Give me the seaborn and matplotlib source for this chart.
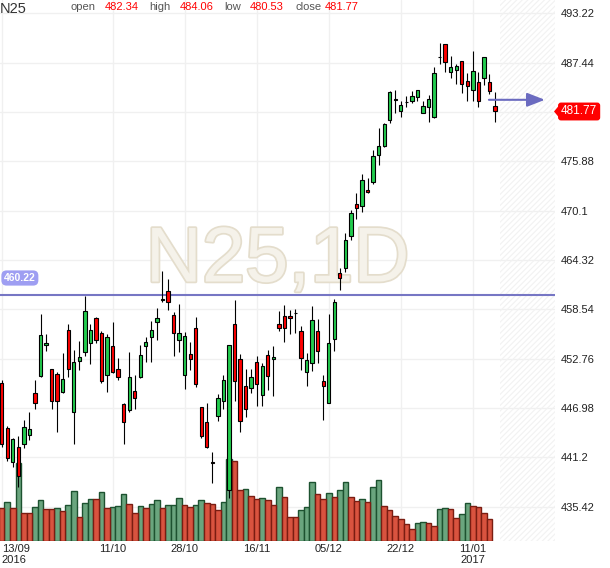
import numpy as np
import pandas as pd
import seaborn as sns
import matplotlib
matplotlib.use('Agg')
import matplotlib.pyplot as plt
import matplotlib.patheffects as pe
from matplotlib.patches import Polygon

# daily candles, N25, 13/09/2016 .. 17/01/2017
opens = [449.9, 444.6, 440.6, 442.4, 442.7, 443.8, 448.7, 450.7, 454.3, 451.5,
         451.0, 448.8, 456.1, 446.5, 452.5, 453.5, 454.6, 457.5, 455.8, 450.8,
         454.2, 451.6, 447.4, 446.7, 449.0, 450.6, 454.2, 455.3, 457.1, 459.6,
         460.7, 457.9, 454.9, 450.8, 453.3, 456.3, 447.1, 445.3, 440.6, 446.0,
         447.8, 437.3, 456.8, 452.7, 449.6, 449.3, 452.4, 448.5, 453.2, 452.7,
         456.8, 457.8, 457.8, 458.1, 456.0, 451.2, 452.3, 456.0, 450.1, 447.6,
         455.1, 462.8, 463.4, 467.1, 470.9, 470.7, 472.5, 473.5, 476.6, 477.7,
         480.7, 483.2, 481.8, 482.9, 483.0, 483.4, 481.6, 482.2, 481.1, 488.1,
         489.6, 486.4, 486.6, 487.7, 485.3, 484.3, 485.2, 485.7, 485.2, 482.34]
highs = [450.3, 444.9, 443.4, 443.7, 445.6, 446.5, 450.3, 458.0, 455.7, 451.6,
         451.2, 453.4, 456.8, 453.8, 454.8, 460.1, 456.8, 457.6, 456.0, 455.6,
         457.0, 452.8, 447.5, 453.5, 450.8, 454.4, 455.3, 457.2, 458.7, 463.0,
         462.1, 458.2, 459.2, 455.9, 454.7, 457.6, 447.1, 447.5, 441.8, 448.6,
         450.8, 454.4, 459.6, 453.3, 451.6, 451.5, 453.1, 452.3, 453.8, 454.2,
         458.4, 459.1, 458.5, 458.6, 456.6, 453.4, 458.9, 457.4, 450.8, 458.0,
         459.8, 463.4, 467.5, 470.2, 472.2, 474.4, 473.9, 477.2, 479.8, 480.4,
         484.1, 484.3, 483.0, 483.6, 484.1, 484.2, 483.0, 483.7, 487.0, 489.8,
         489.7, 488.2, 487.3, 487.7, 486.2, 488.8, 486.4, 488.1, 486.1, 484.06]
lows = [442.4, 440.7, 440.0, 437.7, 442.3, 443.2, 446.9, 450.6, 453.6, 446.9,
        444.2, 448.7, 450.6, 442.7, 451.4, 453.1, 452.1, 454.6, 449.9, 448.9,
        451.1, 450.2, 442.8, 446.5, 446.9, 450.5, 452.4, 452.4, 454.9, 459.4,
        458.5, 453.1, 453.5, 449.2, 451.4, 449.4, 443.5, 442.3, 438.2, 445.4,
        446.9, 436.4, 447.8, 444.2, 445.9, 448.7, 447.2, 447.2, 449.1, 448.4,
        456.0, 454.7, 455.6, 455.8, 451.4, 449.5, 451.3, 452.3, 445.6, 447.5,
        453.7, 460.8, 462.9, 466.7, 469.1, 470.0, 472.2, 473.2, 475.5, 477.6,
        480.4, 481.6, 481.1, 482.2, 482.7, 483.0, 481.5, 480.5, 481.0, 487.3,
        486.4, 485.7, 485.0, 483.9, 483.0, 483.0, 482.3, 484.8, 483.8, 480.53]
closes = [442.8, 441.1, 443.3, 439.0, 444.7, 444.5, 447.5, 455.5, 454.6, 447.8,
          447.8, 450.4, 451.6, 452.4, 453.0, 458.3, 456.1, 454.9, 450.1, 455.3,
          451.2, 450.6, 445.3, 450.6, 448.1, 453.2, 454.7, 456.1, 457.5, 459.8,
          459.4, 455.8, 455.8, 455.4, 452.7, 449.8, 443.7, 442.4, 440.5, 448.2,
          450.3, 454.4, 450.1, 445.4, 446.8, 450.6, 449.8, 451.9, 450.7, 453.0,
          456.4, 456.4, 457.5, 458.1, 452.8, 452.6, 457.3, 453.6, 449.6, 454.6,
          459.4, 462.2, 466.7, 469.8, 470.4, 473.7, 472.3, 476.5, 477.7, 480.3,
          484.0, 483.1, 482.5, 482.9, 483.5, 484.2, 482.4, 483.2, 486.3, 488.1,
          487.5, 486.9, 487.1, 485.0, 484.7, 486.5, 483.0, 488.1, 484.1, 481.77]

# volume (arbitrary units), last day has no bar yet
vol = [33, 39, 33, 78, 28, 28, 34, 41, 32, 32,
       33, 30, 36, 50, 24, 38, 42, 42, 49, 33,
       34, 35, 47, 37, 28, 35, 33, 37, 41, 33,
       36, 36, 43, 36, 34, 36, 41, 38, 37, 31,
       39, 82, 80, 51, 52, 45, 42, 43, 41, 36,
       54, 44, 24, 24, 31, 34, 59, 47, 42, 48,
       44, 51, 59, 44, 40, 42, 39, 54, 61, 35,
       31, 25, 22, 17, 12, 18, 19, 18, 15, 32,
       33, 32, 23, 27, 38, 35, 34, 28, 22]
vol_up = [0, 1, 0, 1, 0, 0, 1, 1, 0, 0,
          1, 0, 1, 1, 0, 1, 1, 0, 1, 0,
          1, 1, 1, 0, 0, 1, 0, 1, 1, 0,
          1, 1, 1, 0, 0, 1, 1, 0, 0, 0,
          1, 1, 0, 0, 1, 0, 0, 1, 0, 0,
          1, 0, 0, 0, 1, 1, 1, 0, 0, 1,
          0, 1, 1, 0, 0, 1, 0, 1, 1, 0,
          0, 0, 0, 0, 0, 1, 1, 0, 0, 1,
          1, 0, 0, 1, 1, 0, 0, 0, 0]

tick_pos = [0, 20, 33, 46, 59, 72, 85]
tick_labels = ['13/09\n2016', '11/10', '28/10', '16/11', '05/12', '22/12', '11/01\n2017']
price_ticks = [435.42, 441.2, 446.98, 452.76, 458.54, 464.32, 470.1, 475.88, 481.66, 487.44, 493.22]
# 481.66 sits under the last-price tag, so its label is not shown
price_labels = ['435.42', '441.2', '446.98', '452.76', '458.54', '464.32', '470.1',
                '475.88', '', '487.44', '493.22']
level = 460.22

sns.set_theme(style='white')
plt.rcParams['font.family'] = ['Liberation Sans', 'DejaVu Sans']
plt.rcParams['hatch.linewidth'] = 0.8

fig = plt.figure(figsize=(6.1, 5.68), dpi=100)
rect = [0, 1 - 541 / 568, 555 / 610, 541 / 568]
ax = fig.add_axes(rect)                                  # grid, ticks, watermark
ax_vol = fig.add_axes(rect, sharex=ax, label='vol')       # volume bars
ax_c = fig.add_axes(rect, sharex=ax, sharey=ax, label='candles')
ax.set_zorder(0)
ax_vol.set_zorder(1)
ax_c.set_zorder(2)

n = len(opens)
x = np.arange(n)
xlim = (-0.31, 99.82)

# background axes
ax.set_ylim(431.38, 494.80)
ax.set_yticks(price_ticks)
ax.set_yticklabels(price_labels)
ax.yaxis.tick_right()
ax.tick_params(axis='y', length=0, pad=4, labelsize=8, labelcolor='#222222')
ax.set_xticks(tick_pos)
ax.set_xticklabels(tick_labels, linespacing=1.05)
ax.tick_params(axis='x', length=0, pad=2.5, labelsize=8, labelcolor='#222222')
ax.get_xticklabels()[0].set_horizontalalignment('left')
ax.grid(True, color='#f0f0f0', lw=1)
for s in ax.spines.values():
    s.set_visible(False)
ax.axvspan(n - 0.1, xlim[1], facecolor='none', edgecolor='#f2f2f2', hatch='//////', lw=0)
ax.text(0.5, 0.5175, 'N25,1D', transform=ax.transAxes, ha='center', va='center',
        fontsize=56, color='#f5f2ea',
        path_effects=[pe.withStroke(linewidth=2.5, foreground='#e4ddcc')])

# volume
df_vol = pd.DataFrame({'day': np.arange(len(vol)), 'vol': vol, 'up': vol_up})
for flag, face, edge in [(1, '#6aa57e', '#1d5230'), (0, '#d9533f', '#7a1d12')]:
    sub = df_vol[df_vol['up'] == flag]
    sns.barplot(data=sub, x='day', y='vol', native_scale=True, width=1.0,
                color=face, saturation=1, edgecolor=edge, linewidth=1.0,
                errorbar=None, ax=ax_vol)
ax_vol.set_ylim(0, max(vol) * 6.6)
ax_vol.axis('off')

# candles
o = np.array(opens)
c = np.array(closes)
up = c >= o
ax_c.axhline(level, color='#7676c4', lw=1.5, zorder=1)
ax_c.vlines(x, lows, highs, color='black', lw=0.8, zorder=2)
ax_c.bar(x, np.abs(c - o), bottom=np.minimum(o, c), width=0.6,
         color=np.where(up, '#22cc4e', '#ff0000'), edgecolor='black', lw=0.8, zorder=3)
ax_c.annotate('', xy=(98.0, 483.1), xytext=(87.9, 483.1), annotation_clip=False,
              arrowprops=dict(arrowstyle='-|>,head_length=0.9,head_width=0.35',
                              color='#6b6bc0', lw=1.5, shrinkA=0, shrinkB=0))
ax_c.axis('off')
ax.set_xlim(*xlim)

# header
fig.text(0, 1 - 12.7 / 568, 'N25', fontsize=10.5, color='#333333', va='baseline')
header = [(70.7, 'open', '#555555'), (105, f'{opens[-1]:.2f}', '#ff0000'),
          (149.3, 'high', '#555555'), (180, f'{highs[-1]:.2f}', '#ff0000'),
          (224.7, 'low', '#555555'), (250, f'{lows[-1]:.2f}', '#ff0000'),
          (295, 'close', '#555555'), (325, f'{closes[-1]:.2f}', '#ff0000')]
for px, txt, col in header:
    fig.text(px / 610, 1 - 10.5 / 568, txt, fontsize=8, color=col, va='baseline')

# level and last price tags
fig.text(4 / 610, 1 - 278 / 568, f'{level:.2f}', ha='left', va='center', fontsize=7.5,
         color='white', fontweight='bold',
         bbox=dict(boxstyle='round,pad=0.25,rounding_size=0.5', fc='#9e9ef2', ec='none'))
fig.text(561 / 610, 1 - 111.5 / 568, f'{closes[-1]:.2f}', ha='left', va='center',
         fontsize=8.5, color='white',
         bbox=dict(boxstyle='round,pad=0.25', fc='#ff0000', ec='none'))
tip = [(554 / 610, 1 - 111.5 / 568), (559 / 610, 1 - 105.5 / 568), (559 / 610, 1 - 117.5 / 568)]
fig.patches.append(Polygon(tip, closed=True, fc='#ff0000', ec='none',
                           transform=fig.transFigure, figure=fig))

fig.savefig('out.png', dpi=100)
